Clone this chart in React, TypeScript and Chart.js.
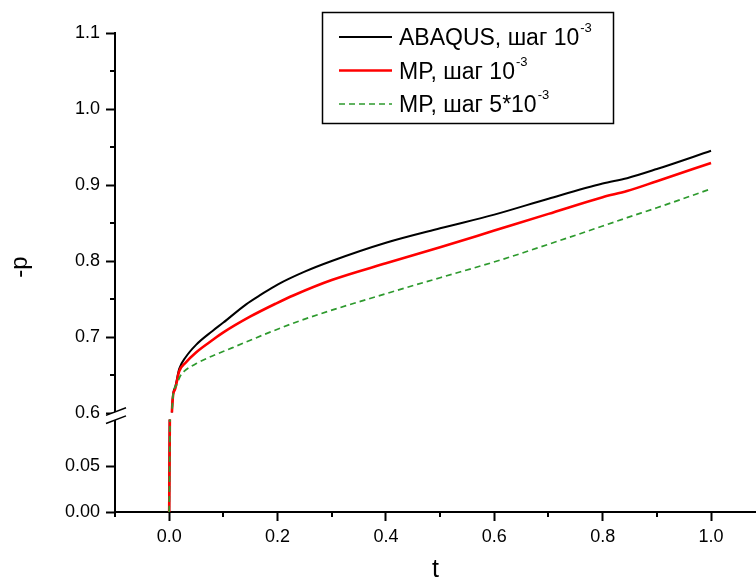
import React, { useEffect, useRef } from 'react';
import { Chart, registerables } from 'chart.js';

Chart.register(...registerables);

// ---- data ----
const abaqusT = [0, 0.0008, 0.005, 0.01, 0.0185, 0.03, 0.05, 0.08, 0.1, 0.142, 0.17, 0.2, 0.25, 0.3, 0.4, 0.5, 0.6, 0.7, 0.8, 0.845, 0.9, 1.0];
const abaqusP = [0, 0.1, 0.6, 0.632, 0.658, 0.673, 0.69, 0.708, 0.719, 0.743, 0.756, 0.769, 0.786, 0.8, 0.824, 0.843, 0.861, 0.882, 0.902, 0.909, 0.921, 0.945];

const mr1T = [0, 0.0012, 0.005, 0.01, 0.0185, 0.03, 0.05, 0.08, 0.1, 0.15, 0.197, 0.23, 0.3, 0.4, 0.5, 0.6, 0.7, 0.8, 0.845, 0.9, 1.0];
const mr1P = [0, 0.1, 0.6, 0.63, 0.655, 0.666, 0.68, 0.696, 0.706, 0.727, 0.744, 0.755, 0.775, 0.797, 0.818, 0.84, 0.862, 0.884, 0.892, 0.905, 0.929];

const mr5T = [0, 0.0015, 0.005, 0.012, 0.02, 0.028, 0.05, 0.117, 0.24, 0.4, 0.5, 0.61, 0.7, 0.8, 0.845, 0.9, 1.0];
const mr5P = [0, 0.1, 0.6, 0.635, 0.648, 0.655, 0.665, 0.686, 0.721, 0.757, 0.778, 0.801, 0.822, 0.846, 0.857, 0.87, 0.895];

const legendLabels = ['ABAQUS, шаг 10', 'MP, шаг 10', 'MP, шаг 5*10'];
const legendExponents = ['-3', '-3', '-3'];

const xTitle = 't';
const yTitle = '-p';

const FONT = '"Liberation Sans", Arial, Helvetica, sans-serif';
const TRANSPARENT = 'rgba(0,0,0,0)';

const series = [
  { label: legendLabels[0], exp: legendExponents[0], t: abaqusT, p: abaqusP, color: '#000000', width: 2, dash: [] as number[], order: 2 },
  { label: legendLabels[1], exp: legendExponents[1], t: mr1T, p: mr1P, color: '#ff0000', width: 2.6, dash: [] as number[], order: 1 },
  { label: legendLabels[2], exp: legendExponents[2], t: mr5T, p: mr5P, color: '#2e9a2e', width: 1.7, dash: [6, 4], order: 0 },
];

function isMinorX(v: number) {
  return Math.abs(Math.round(v * 10)) % 2 === 1;
}
function isMinorYU(v: number) {
  return Math.abs(Math.round(v * 20)) % 2 === 1;
}

const decorPlugin = {
  id: 'decor',
  afterDraw(chart: any) {
    const ctx = chart.ctx as CanvasRenderingContext2D;
    const xs = chart.scales.x;
    const yU = chart.scales.yU;
    const yL = chart.scales.yL;
    ctx.save();
    ctx.strokeStyle = '#000';
    ctx.lineWidth = 2;
    ctx.setLineDash([]);
    // minor ticks
    for (const t of xs.ticks) {
      if (isMinorX(t.value)) {
        const px = Math.round(xs.getPixelForValue(t.value));
        ctx.beginPath();
        ctx.moveTo(px, xs.top);
        ctx.lineTo(px, xs.top + 5);
        ctx.stroke();
      }
    }
    for (const t of yU.ticks) {
      if (isMinorYU(t.value)) {
        const py = Math.round(yU.getPixelForValue(t.value));
        ctx.beginPath();
        ctx.moveTo(yU.right - 5, py);
        ctx.lineTo(yU.right, py);
        ctx.stroke();
      }
    }
    // axis break symbol
    const ax = yU.right;
    const yTop = yU.getPixelForValue(0.6) - 1;
    const yBot = yL.getPixelForValue(0.1) - 0.5;
    const dxL = 9, dxR = 11, slope = 0.38;
    ctx.fillStyle = '#fff';
    ctx.beginPath();
    ctx.moveTo(ax - dxL, yTop + dxL * slope);
    ctx.lineTo(ax + dxR, yTop - dxR * slope);
    ctx.lineTo(ax + dxR, yBot - dxR * slope);
    ctx.lineTo(ax - dxL, yBot + dxL * slope);
    ctx.closePath();
    ctx.fill();
    ctx.lineWidth = 1.5;
    ctx.beginPath();
    ctx.moveTo(ax - dxL, yTop + dxL * slope);
    ctx.lineTo(ax + dxR, yTop - dxR * slope);
    ctx.moveTo(ax - dxL, yBot + dxL * slope);
    ctx.lineTo(ax + dxR, yBot - dxR * slope);
    ctx.stroke();

    // y axis title
    ctx.save();
    ctx.fillStyle = '#000';
    ctx.font = `24px ${FONT}`;
    ctx.translate(20, 267);
    ctx.rotate(-Math.PI / 2);
    ctx.textAlign = 'center';
    ctx.textBaseline = 'middle';
    ctx.fillText(yTitle, 0, 0);
    ctx.restore();

    // legend box
    const lx = 322, ly = 12, lw = 291, lh = 111;
    ctx.fillStyle = '#fff';
    ctx.fillRect(lx, ly, lw, lh);
    ctx.strokeStyle = '#000';
    ctx.lineWidth = 1.5;
    ctx.strokeRect(lx + 0.5, ly + 0.5, lw, lh);
    const rowY = [37, 70.5, 104];
    series.forEach((s, i) => {
      const y = rowY[i];
      ctx.strokeStyle = s.color;
      ctx.lineWidth = s.width;
      ctx.setLineDash(s.dash);
      ctx.beginPath();
      ctx.moveTo(339, y);
      ctx.lineTo(392, y);
      ctx.stroke();
      ctx.setLineDash([]);
      ctx.fillStyle = '#000';
      ctx.textAlign = 'left';
      ctx.textBaseline = 'alphabetic';
      ctx.font = `23px ${FONT}`;
      ctx.fillText(s.label, 399, y + 8);
      const w = ctx.measureText(s.label).width;
      ctx.font = `13px ${FONT}`;
      ctx.fillText(s.exp, 399 + w + 1, y + 8 - 13);
    });
    ctx.restore();
  },
};

export default function App() {
  const ref = useRef<HTMLCanvasElement>(null);

  useEffect(() => {
    if (!ref.current) return;
    Chart.defaults.font.family = FONT;
    Chart.defaults.color = '#000';

    const datasets: any[] = [];
    series.forEach((s) => {
      const pts = s.t.map((t, i) => ({ x: t, y: s.p[i] }));
      const common = {
        label: s.label,
        data: pts,
        borderColor: s.color,
        backgroundColor: s.color,
        borderWidth: s.width,
        borderDash: s.dash,
        pointRadius: 0,
        fill: false,
        cubicInterpolationMode: 'monotone',
        borderJoinStyle: 'round',
        order: s.order,
        xAxisID: 'x',
      };
      datasets.push({ ...common, yAxisID: 'yU', clip: { left: 2, right: 2, top: 2, bottom: -8 } });
      datasets.push({ ...common, yAxisID: 'yL', clip: { left: 2, right: 2, top: 1, bottom: 2 } });
    });

    const gridBase = {
      display: true,
      drawOnChartArea: false,
      drawTicks: true,
      tickLength: 9,
      tickWidth: 2,
    };
    const border = { display: true, color: '#000', width: 2 };

    const chart = new Chart(ref.current, {
      type: 'line',
      data: { datasets },
      plugins: [decorPlugin],
      options: {
        responsive: false,
        animation: false,
        layout: { padding: { top: 33, left: 0, right: 0, bottom: 0 } },
        plugins: {
          legend: { display: false },
          tooltip: { enabled: false },
        },
        scales: {
          x: {
            type: 'linear',
            position: 'bottom',
            min: -0.1,
            max: 1.083,
            afterFit: (s: any) => { s.height = 74; },
            border,
            grid: {
              ...gridBase,
              tickColor: (c: any) => (c.tick && isMinorX(c.tick.value) ? TRANSPARENT : '#000'),
            },
            ticks: {
              stepSize: 0.1,
              includeBounds: false,
              autoSkip: false,
              maxRotation: 0,
              padding: 5,
              color: '#000',
              font: { size: 18 },
              callback: (v: any) => (isMinorX(Number(v)) ? '' : Number(v).toFixed(1)),
            },
            title: { display: true, text: xTitle, color: '#000', font: { size: 25 }, padding: { top: 0, bottom: 1 } },
          },
          yU: {
            type: 'linear',
            position: 'left',
            stack: 'y',
            stackWeight: 387.6,
            weight: 2,
            min: 0.59,
            max: 1.1,
            afterFit: (s: any) => { s.width = 115; },
            border,
            grid: {
              ...gridBase,
              tickColor: (c: any) => (c.tick && isMinorYU(c.tick.value) ? TRANSPARENT : '#000'),
            },
            ticks: {
              stepSize: 0.05,
              includeBounds: false,
              autoSkip: false,
              padding: 6,
              color: '#000',
              font: { size: 18 },
              callback: (v: any) => (isMinorYU(Number(v)) ? '' : Number(v).toFixed(1)),
            },
          },
          yL: {
            type: 'linear',
            position: 'left',
            stack: 'y',
            stackWeight: 91.4,
            weight: 1,
            min: 0,
            max: 0.1,
            afterFit: (s: any) => { s.width = 115; },
            border,
            grid: {
              ...gridBase,
              tickColor: (c: any) => (c.tick && c.tick.value > 0.09 ? TRANSPARENT : '#000'),
            },
            ticks: {
              stepSize: 0.05,
              includeBounds: false,
              autoSkip: false,
              padding: 6,
              color: '#000',
              font: { size: 18 },
              callback: (v: any) => (Number(v) > 0.09 ? '' : Number(v).toFixed(2)),
            },
          },
        },
      } as any,
    } as any);

    return () => chart.destroy();
  }, []);

  return (
    <div style={{ position: 'absolute', left: 0, top: 0, width: 756, height: 586, background: '#fff' }}>
      <canvas ref={ref} width={756} height={586} style={{ display: 'block', width: 756, height: 586 }} />
    </div>
  );
}
